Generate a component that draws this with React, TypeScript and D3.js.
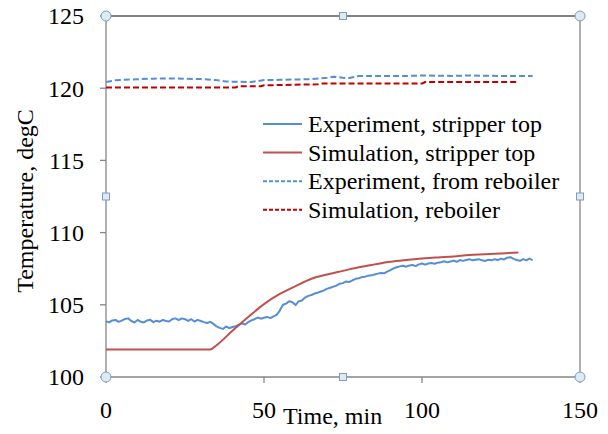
import * as d3 from "d3"

const W = 608
const H = 434

// Experiment, stripper top: one reading per minute, 0..135
const expTopTime = d3.range(0, 136)
const expTopVals = [
  103.85, 103.78, 103.92, 103.95, 103.82, 103.9, 104.02, 104.06, 103.88, 103.78,
  103.95, 103.83, 103.78, 103.92, 103.96, 103.8, 103.9, 103.83, 103.95, 103.88,
  103.84, 104.02, 104.06, 103.94, 104.06, 104.0, 103.88, 104.0, 103.84, 103.96,
  103.88, 103.8, 103.74, 103.82, 103.68, 103.5, 103.4, 103.33, 103.5, 103.38,
  103.46, 103.52, 103.6, 103.72, 103.64, 103.8, 103.92, 104.0, 104.12, 104.04,
  104.1, 104.16, 104.08, 104.2, 104.3, 104.6, 105.0, 105.08, 105.25, 105.18,
  104.98, 105.25, 105.3, 105.5, 105.62, 105.68, 105.78, 105.84, 105.92, 106.0,
  106.12, 106.18, 106.26, 106.34, 106.46, 106.5, 106.62, 106.58, 106.7, 106.8,
  106.84, 106.92, 106.95, 107.02, 107.04, 107.1, 107.16, 107.2, 107.18, 107.3,
  107.4, 107.52, 107.6, 107.66, 107.7, 107.64, 107.72, 107.76, 107.68, 107.8,
  107.86, 107.78, 107.86, 107.9, 107.84, 107.92, 107.95, 108.02, 107.94, 108.0,
  108.06, 107.98, 108.1, 108.04, 108.1, 108.16, 108.08, 108.12, 108.16, 108.08,
  108.04, 108.12, 108.08, 108.16, 108.1, 108.2, 108.14, 108.26, 108.3, 108.18,
  108.1, 108.04, 108.16, 108.08, 108.2, 108.1,
]

// Simulation, stripper top
const simTopTime = [0, 33, 35, 40, 45, 50, 55, 60, 65, 70, 75, 80, 85, 90, 95, 100, 105, 110, 115, 120, 125, 130.5]
const simTopVals = [101.9, 101.9, 102.2, 103.2, 104.15, 105.05, 105.75, 106.3, 106.8, 107.1, 107.35, 107.6, 107.8, 107.98, 108.1, 108.2, 108.28, 108.35, 108.45, 108.5, 108.56, 108.62]

// Experiment, from reboiler
const expRebTime = [0, 3, 5, 10, 15, 20, 25, 30, 35, 38, 42, 46, 50, 55, 60, 65, 70, 72, 75, 77, 80, 85, 90, 95, 100, 105, 110, 115, 120, 125, 130, 135]
const expRebVals = [120.43, 120.55, 120.58, 120.62, 120.66, 120.68, 120.66, 120.63, 120.56, 120.46, 120.44, 120.43, 120.56, 120.58, 120.6, 120.63, 120.72, 120.8, 120.72, 120.7, 120.84, 120.84, 120.85, 120.85, 120.88, 120.86, 120.85, 120.88, 120.86, 120.85, 120.84, 120.84]

// Simulation, reboiler
const simRebTime = [0, 41, 42, 49, 50, 67, 68, 100, 101, 130]
const simRebVals = [120.05, 120.05, 120.14, 120.14, 120.2, 120.27, 120.32, 120.32, 120.43, 120.43]

const xTicks = [0, 50, 100, 150]
const yTicks = [100, 105, 110, 115, 120, 125]

const legendLabels = [
  "Experiment, stripper top",
  "Simulation, stripper top",
  "Experiment, from reboiler",
  "Simulation, reboiler",
]

const FONT = "'Liberation Serif', 'Times New Roman', serif"

export default function App() {
  const left = 106, right = 580, top = 16, bottom = 377
  const x = d3.scaleLinear().domain([0, 150]).range([left, right])
  const y = d3.scaleLinear().domain([100, 125]).range([bottom, top])

  const mk = (ts: number[], vs: number[], curve: d3.CurveFactory) =>
    d3.line<number>()
      .x((_, i) => x(ts[i]))
      .y(d => y(d))
      .curve(curve)(vs) || ""

  const series = [
    { d: mk(expTopTime, expTopVals, d3.curveLinear), color: "#558ed5", dash: "" },
    { d: mk(simTopTime, simTopVals, d3.curveMonotoneX), color: "#c0504d", dash: "" },
    { d: mk(expRebTime, expRebVals, d3.curveLinear), color: "#558ed5", dash: "6,3" },
    { d: mk(simRebTime, simRebVals, d3.curveLinear), color: "#c00000", dash: "6,3" },
  ]

  const axisColor = "#868686"
  const handleFill = "#dcebf3"
  const handleStroke = "#7f9db9"
  const midX = (left + right) / 2
  const midY = (top + bottom) / 2

  return (
    <svg width={W} height={H} style={{ position: "absolute", left: 0, top: 0, background: "#fff" }}
      fontFamily={FONT}>
      {/* frame */}
      <line x1={left} x2={right} y1={top} y2={top} stroke="#595959" strokeWidth={1.3} />
      <line x1={right} x2={right} y1={top} y2={bottom} stroke={axisColor} strokeWidth={1.3} />
      <line x1={left} x2={left} y1={top} y2={bottom} stroke={axisColor} strokeWidth={1.3} />
      <line x1={left} x2={right} y1={bottom} y2={bottom} stroke={axisColor} strokeWidth={1.3} />

      {/* y axis */}
      {yTicks.map(t => (
        <g key={"y" + t}>
          <line x1={left - 6} x2={left} y1={y(t)} y2={y(t)} stroke={axisColor} strokeWidth={1.3} />
          <text x={84} y={y(t)} dy="0.35em" textAnchor="end" fontSize={24} fill="#000">{t}</text>
        </g>
      ))}
      {/* x axis */}
      {xTicks.map(t => (
        <g key={"x" + t}>
          <line x1={x(t)} x2={x(t)} y1={bottom} y2={bottom + 6} stroke={axisColor} strokeWidth={1.3} />
          <text x={x(t)} y={418} textAnchor="middle" fontSize={24} fill="#000">{t}</text>
        </g>
      ))}

      <text x={283} y={424} fontSize={24} fill="#000">Time, min</text>
      <text transform="translate(33,201) rotate(-90)" textAnchor="middle" fontSize={24} fill="#000">
        Temperature, degC
      </text>

      {/* series */}
      {series.map((s, i) => (
        <path key={i} d={s.d} fill="none" stroke={s.color} strokeWidth={2}
          strokeDasharray={s.dash || undefined} strokeLinejoin="round" />
      ))}

      {/* legend */}
      {legendLabels.map((lab, i) => {
        const ly = 124 + i * 28.6
        return (
          <g key={lab}>
            <line x1={263} x2={302} y1={ly} y2={ly} stroke={series[i].color} strokeWidth={2}
              strokeDasharray={series[i].dash ? "4,2" : undefined} />
            <text x={308} y={ly + 8} fontSize={24} fill="#000">{lab}</text>
          </g>
        )
      })}

      {/* selection handles */}
      {[[left, top], [right, top], [left, bottom], [right, bottom]].map(([cx, cy], i) => (
        <circle key={"c" + i} cx={cx} cy={cy} r={5} fill={handleFill} stroke={handleStroke} strokeWidth={1} />
      ))}
      {[[midX, top], [left, midY], [right, midY], [midX, bottom]].map(([cx, cy], i) => (
        <rect key={"r" + i} x={cx - 3.5} y={cy - 3.5} width={7} height={7} fill={handleFill} stroke={handleStroke} strokeWidth={1} />
      ))}
    </svg>
  )
}
